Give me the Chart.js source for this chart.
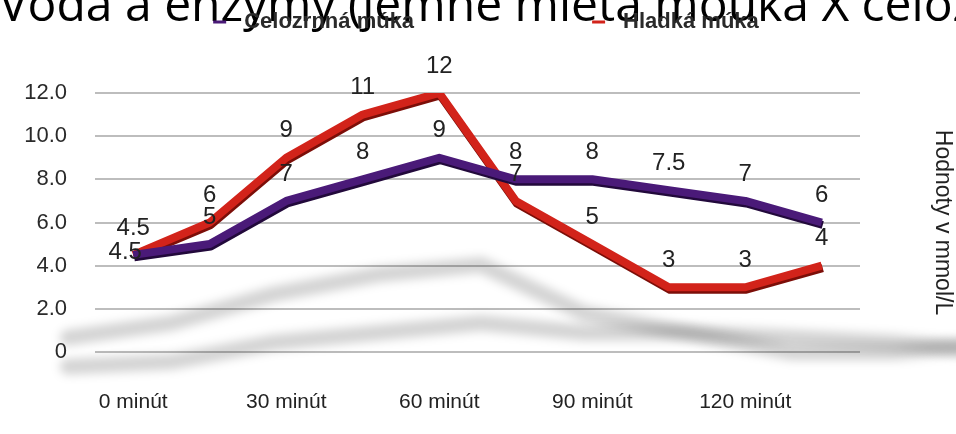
<!DOCTYPE html>
<html>
<head>
<meta charset="utf-8">
<script src="https://cdn.jsdelivr.net/npm/chart.js@4/dist/chart.umd.min.js"></script>
<style>
  html, body { margin: 0; padding: 0; background: #fff; overflow: hidden; }
  #wrap { width: 956px; height: 434px; position: relative; }
</style>
</head>
<body>
<div id="wrap"><canvas id="chart" width="956" height="434"></canvas></div>
<script>
// Headline (sits partly above the top edge of the page)
const headline = 'Voda a enzymy (jemně mletá mouka X celozrnná mouka)';

// Sampling times in minutes; every 30 minutes gets a label
const minutes = [0, 15, 30, 45, 60, 75, 90, 105, 120, 135];
const labelledMinutes = [0, 30, 60, 90, 120];

// Measured values (mmol/L)
const wholeGrainLabel = 'Celozrnná múka';
const wholeGrain = [4.5, 5, 7, 8, 9, 8, 8, 7.5, 7, 6];
const plainFlourLabel = 'Hladká múka';
const plainFlour = [4.5, 6, 9, 11, 12, 7, 5, 3, 3, 4];

// Value axis
const yMin = 0, yMax = 12, yStep = 2;
const yTitle = 'Hodnoty v mmol/L';

const FONT = '"Liberation Sans", Arial, Helvetica, sans-serif';
const TEXT = '#222';

// Line colours: main stroke and darker underside
const purple = '#4a1a78', purpleDark = '#22093b';
const red = '#d2231a', redDark = '#7c0e08';

// Soft grey reflection of each line, projected onto the floor
const floorShadow = {
  id: 'floorShadow',
  beforeDatasetsDraw(chart) {
    const ctx = chart.ctx;
    chart.data.datasets.forEach((ds, i) => {
      const meta = chart.getDatasetMeta(i);
      if (!meta.data.length) return;
      const base = ds.shadowBase;
      ctx.save();
      ctx.filter = 'blur(5px)';
      ctx.strokeStyle = 'rgba(0,0,0,0.17)';
      ctx.lineWidth = 16;
      ctx.lineJoin = 'round';
      ctx.lineCap = 'round';
      ctx.beginPath();
      meta.data.forEach((pt, k) => {
        const x = pt.x * 1.35 - 112;
        const y = pt.y * 0.45 + base;
        if (k === 0) ctx.moveTo(x, y); else ctx.lineTo(x, y);
      });
      ctx.stroke();
      ctx.restore();
    });
  }
};

// Darker fringe under each line for a tube-like look
const lineDepth = {
  id: 'lineDepth',
  beforeDatasetDraw(chart, args) {
    const ds = chart.data.datasets[args.index];
    const ctx = chart.ctx;
    ctx.save();
    ctx.shadowColor = ds.edgeColor;
    ctx.shadowOffsetX = 1;
    ctx.shadowOffsetY = 2.5;
    ctx.shadowBlur = 0;
  },
  afterDatasetDraw(chart) {
    chart.ctx.restore();
  }
};

// Value labels above the points
const valueLabels = {
  id: 'valueLabels',
  afterDatasetsDraw(chart) {
    const ctx = chart.ctx;
    const placed = [];
    ctx.save();
    ctx.font = '24px ' + FONT;
    ctx.fillStyle = TEXT;
    ctx.textAlign = 'center';
    ctx.textBaseline = 'middle';
    for (let i = chart.data.datasets.length - 1; i >= 0; i--) {
      const ds = chart.data.datasets[i];
      const meta = chart.getDatasetMeta(i);
      meta.data.forEach((pt, k) => {
        let x = pt.x, y = pt.y - 27;
        if (placed.some(p => Math.abs(p.x - x) < 22 && Math.abs(p.y - y) < 20)) {
          x -= 8;
          y += 24;
        }
        placed.push({ x, y });
        ctx.fillText(String(ds.data[k]), x, y);
      });
    }
    ctx.restore();
  }
};

// Headline and legend along the top edge
const header = {
  id: 'header',
  afterDraw(chart) {
    const ctx = chart.ctx;
    ctx.save();
    ctx.font = '48px "Open Sans", "Liberation Sans", sans-serif';
    ctx.fillStyle = '#000';
    ctx.textBaseline = 'alphabetic';
    ctx.textAlign = 'left';
    ctx.fillText(headline, -1, 21);

    ctx.font = 'bold 22px "Liberation Sans", Arial, sans-serif';
    ctx.textBaseline = 'middle';
    const items = chart.data.datasets.map(ds => ({ text: ds.label, color: ds.borderColor }));
    const dash = 13, dashGap = 18, itemGap = 178;
    const widths = items.map(it => dash + dashGap + ctx.measureText(it.text).width);
    const total = widths.reduce((a, b) => a + b, 0) + itemGap * (items.length - 1);
    let x = 486 - total / 2;
    const y = 22;
    items.forEach((it, k) => {
      ctx.fillStyle = it.color;
      ctx.fillRect(x, y - 1.5, dash, 3);
      ctx.fillStyle = '#2a2a2a';
      ctx.fillText(it.text, x + dash + dashGap, y);
      x += widths[k] + itemGap;
    });
    ctx.restore();
  }
};

new Chart(document.getElementById('chart'), {
  type: 'line',
  data: {
    labels: minutes,
    datasets: [
      {
        label: wholeGrainLabel,
        data: wholeGrain,
        borderColor: purple,
        backgroundColor: purple,
        edgeColor: purpleDark,
        shadowBase: 252,
        borderWidth: 8,
        pointRadius: 0,
        tension: 0,
        borderJoinStyle: 'round'
      },
      {
        label: plainFlourLabel,
        data: plainFlour,
        borderColor: red,
        backgroundColor: red,
        edgeColor: redDark,
        shadowBase: 223,
        borderWidth: 8,
        pointRadius: 0,
        tension: 0,
        borderJoinStyle: 'round'
      }
    ]
  },
  options: {
    responsive: false,
    animation: false,
    events: [],
    layout: { padding: { top: 93, left: 24, right: 0, bottom: 0 } },
    plugins: {
      legend: { display: false },
      tooltip: { enabled: false }
    },
    scales: {
      x: {
        offset: true,
        grid: { display: false, drawTicks: false },
        border: { display: false },
        afterFit(scale) { scale.height = 82; },
        ticks: {
          autoSkip: false,
          maxRotation: 0,
          padding: 38,
          color: TEXT,
          font: { family: FONT, size: 21 },
          callback(value) {
            const m = minutes[value];
            return labelledMinutes.includes(m) ? m + ' minút' : '';
          }
        }
      },
      y: {
        min: yMin,
        max: yMax,
        grid: { color: '#bdbdbd', lineWidth: 2, drawTicks: false },
        border: { display: false },
        afterFit(scale) { scale.width = 71; },
        ticks: {
          stepSize: yStep,
          padding: 28,
          color: '#2a2a2a',
          font: { family: FONT, size: 22 },
          callback(v) { return v === 0 ? '0' : v.toFixed(1); }
        }
      },
      yRight: {
        position: 'right',
        min: yMin,
        max: yMax,
        grid: { display: false, drawTicks: false },
        border: { display: false },
        ticks: { display: false },
        afterFit(scale) { scale.width = 96; },
        title: {
          display: true,
          text: yTitle,
          color: TEXT,
          font: { family: FONT, size: 23 },
          padding: { top: 0, bottom: 0 }
        }
      }
    }
  },
  plugins: [floorShadow, lineDepth, valueLabels, header]
});
</script>
</body>
</html>
